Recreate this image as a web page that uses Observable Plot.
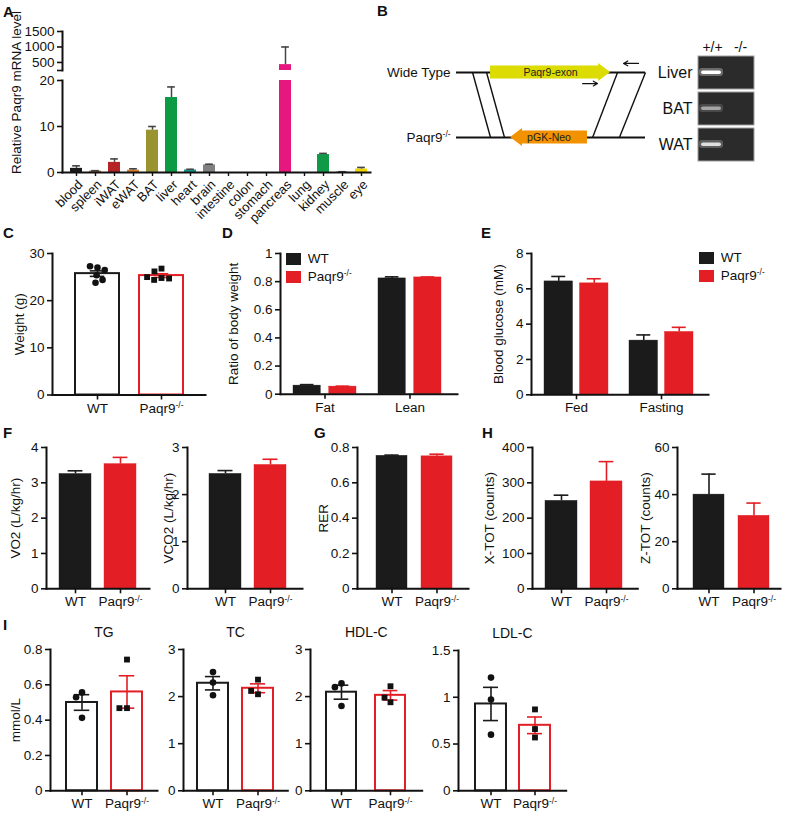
<!DOCTYPE html>
<html><head><meta charset="utf-8">
<script src="https://cdn.jsdelivr.net/npm/d3@7"></script>
<script src="https://cdn.jsdelivr.net/npm/@observablehq/plot@0.6"></script>
<style>
body{margin:0;background:#fff;}
#fig{position:relative;width:789px;height:815px;font-family:"Liberation Sans",Arial,Helvetica,sans-serif;overflow:hidden;background:#fff;}
.pl{position:absolute;}
.pl svg{overflow:visible;max-width:none;}
.letter{position:absolute;font-weight:bold;font-size:15px;line-height:15px;color:#111;}
</style></head><body><div id="fig"></div>
<script>
// ---------------- DATA ----------------
const genotypes = ["WT", "Paqr9-/-"];
const genotypeColors = ["#1b1b1b", "#e31e24"];

// A: tissue expression (broken axis)
const tissues = ["blood","spleen","iWAT","eWAT","BAT","liver","heart","brain","intestine","colon","stomach","pancreas","lung","kidney","muscle","eye"];
const tissueMean = [0.9, 0.3, 2.2, 0.5, 9.2, 16.3, 0.55, 1.65, 0, 0, 0, 430, 0, 3.9, 0.12, 0.75];
const tissueSem  = [0.55, 0.1, 0.75, 0.3, 0.8, 2.3, 0.15, 0.15, 0, 0, 0, 570, 0, 0.25, 0.05, 0.35];
const tissueColors = ["#1a1a1a","#b8743a","#b52327","#d97a25","#9a9430","#0c9a45","#17998a","#808080","#888888","#888888","#888888","#e6177f","#888888","#109a48","#9a9a9a","#f2d500"];
const aLowerDomain = [0, 20], aLowerTicks = [0, 10, 20];
const aUpperDomain = [240, 1500], aUpperTicks = [240, 500, 1000, 1500];

// B: targeting schematic + genotyping gel
const bRows = [{name: "Wide Type", row: 1}, {name: "Paqr9-/-", row: 0}];
const bLocus = [0, 100];
const bCassettes = [{name: "Paqr9-exon", row: 1, from: 18, to: 81.5}, {name: "pGK-Neo", row: 0, from: 69.3, to: 28.6}];
const bCassetteColors = ["#dcdc00", "#f39200"];
const bHomology = [[8.5, 18], [15.9, 25.4], [85.2, 72], [100, 86.2]];
const bPrimers = [{row: 1.14, from: 96.3, to: 88.4}, {row: 0.83, from: 66.7, to: 74.6}];
const gelTissues = ["Liver", "BAT", "WAT"];
const gelLanes = ["+/+", "-/-"];
const gelBand = [[1.0, 0], [0.5, 0], [0.8, 0]];

// C: body weight (individual mice)
const weightWT = [27.0, 27.3, 26.5, 25.4, 24.4, 23.8];
const weightKO = [26.8, 26.2, 24.8, 24.4, 24.7, 25.0];
const weightTicks = [0, 10, 20, 30];

// D: body composition
const compGroups = ["Fat", "Lean"];
const compWT = [0.061, 0.823], compWTsem = [0.007, 0.011];
const compKO = [0.054, 0.830], compKOsem = [0.003, 0.003];
const compTicks = [0, 0.2, 0.4, 0.6, 0.8, 1];

// E: blood glucose
const glucGroups = ["Fed", "Fasting"];
const glucWT = [6.42, 3.07], glucWTsem = [0.28, 0.32];
const glucKO = [6.31, 3.56], glucKOsem = [0.26, 0.26];
const glucTicks = [0, 2, 4, 6, 8];

// F, G, H: metabolic cage
const vo2 = [3.25, 3.53], vo2Sem = [0.09, 0.19], vo2Ticks = [0, 1, 2, 3, 4];
const vco2 = [2.44, 2.63], vco2Sem = [0.07, 0.12], vco2Ticks = [0, 1, 2, 3];
const rer = [0.753, 0.750], rerSem = [0.004, 0.012], rerTicks = [0, 0.2, 0.4, 0.6, 0.8];
const xtot = [249, 304], xtotSem = [16, 56], xtotTicks = [0, 100, 200, 300, 400];
const ztot = [40, 31], ztotSem = [8.7, 5.4], ztotTicks = [0, 20, 40, 60];

// I: serum lipids (individual mice)
const tgWT = [0.557, 0.53, 0.413], tgKO = [0.743, 0.468, 0.468], tgTicks = [0, 0.2, 0.4, 0.6, 0.8];
const tcWT = [2.52, 2.3, 2.03], tcKO = [2.36, 2.05, 2.12], tcTicks = [0, 1, 2, 3];
const hdlWT = [2.28, 2.2, 1.8], hdlKO = [2.22, 1.88, 1.98], hdlTicks = [0, 1, 2, 3];
const ldlWT = [1.21, 0.975, 0.60], ldlKO = [0.87, 0.66, 0.57], ldlTicks = [0, 0.5, 1, 1.5];

// ---------------- HELPERS ----------------
const FONT = '"Liberation Sans", Arial, Helvetica, sans-serif';
const INK = "#111";
const TICK_FS = 13.5, XLAB_FS = 13.5, YLAB_FS = 13.5;
const fig = document.getElementById("fig");
const baseStyle = {fontFamily: FONT, fontSize: "13px", color: INK, background: "transparent", overflow: "visible", maxWidth: "none"};

function put(node, left, top, w) {
  const div = document.createElement("div");
  div.className = "pl";
  div.style.left = left + "px"; div.style.top = top + "px";
  if (w) div.style.width = w + "px";
  div.appendChild(node); fig.appendChild(div);
  return div;
}
function letter(ch, x, cy) {
  const d = document.createElement("div");
  d.className = "letter"; d.textContent = ch;
  d.style.left = x + "px"; d.style.top = (cy - 7.5) + "px";
  fig.appendChild(d);
}
function supify(root) {
  root.querySelectorAll("text").forEach(t => {
    if (t.childElementCount === 0 && t.textContent === "Paqr9-/-") {
      t.textContent = "Paqr9";
      const ts = document.createElementNS("http://www.w3.org/2000/svg", "tspan");
      ts.textContent = "-/-"; ts.setAttribute("font-size", "62%"); ts.setAttribute("dy", "-0.55em");
      t.appendChild(ts);
    }
  });
}
function supifyHTML(root) {
  const walker = document.createTreeWalker(root, NodeFilter.SHOW_TEXT);
  const hits = [];
  while (walker.nextNode()) if (walker.currentNode.nodeValue.trim() === "Paqr9-/-") hits.push(walker.currentNode);
  hits.forEach(n => {
    const span = document.createElement("span");
    span.innerHTML = 'Paqr9<sup style="font-size:62%;vertical-align:0.55em;line-height:0">-/-</sup>';
    n.parentNode.replaceChild(span, n);
  });
}
function bandOpts(a0, a1, b0, bw, S, n) {
  const range = a1 - a0;
  const paddingInner = 1 - bw / S;
  const paddingOuter = Math.max(0.0001, (range / S - n + paddingInner) / 2);
  const align = Math.min(1, Math.max(0, (b0 - a0) / (2 * paddingOuter * S)));
  return {paddingInner, paddingOuter, align};
}
function geom(o, padL = 62, padR = 10, padT = 30, padB = 32) {
  const left = o.axisX - padL, top = o.yTop - padT;
  return {left, top, width: o.axisEnd - left + padR, height: o.y0 - top + padB,
          marginLeft: padL, marginRight: padR, marginTop: padT, marginBottom: padB};
}
function render(g, spec) {
  const svg = Plot.plot({width: g.width, height: g.height, marginLeft: g.marginLeft, marginRight: g.marginRight,
    marginTop: g.marginTop, marginBottom: g.marginBottom, style: baseStyle, ...spec});
  supify(svg);
  put(svg, g.left, g.top, g.width);
  return svg;
}
function yLabel(text, dx, dy = 0, fontSize = YLAB_FS) {
  return Plot.text([text], {text: d => d, frameAnchor: "left", rotate: -90, textAnchor: "middle", lineAnchor: "middle", dx, dy, fontSize});
}
function frameAxes(o) {
  const marks = [
    Plot.frame({anchor: "left", stroke: INK, strokeWidth: 2}),
    Plot.frame({anchor: "bottom", stroke: INK, strokeWidth: 2}),
    Plot.axisY({ticks: o.ticks, tickFormat: o.tickFormat || (d => String(d)), tickSize: 5, tickPadding: 3, strokeWidth: 1.6, fontSize: TICK_FS, label: null})
  ];
  if (o.xAxis !== false) marks.push(Plot.axisX({tickSize: 5, tickPadding: 3, strokeWidth: 1.6, fontSize: XLAB_FS, label: null, ...(o.xAxisOpts || {})}));
  if (o.ylabel) marks.push(yLabel(o.ylabel, o.labelX - o.axisX, o.labelDy || 0));
  if (o.title) marks.push(Plot.text([o.title], {text: d => d, frameAnchor: "top", textAnchor: "middle", lineAnchor: "middle", dy: -17, fontSize: 14}));
  return marks;
}
const colorScale = {domain: genotypes, range: genotypeColors};

// Two-bar panel (WT vs Paqr9-/-); open bars + dots when individual points are given
function simplePanel(o) {
  let rows;
  if (o.points) {
    rows = genotypes.map((g, i) => ({g, mean: d3.mean(o.points[i]), sem: d3.deviation(o.points[i]) / Math.sqrt(o.points[i].length)}));
  } else {
    rows = genotypes.map((g, i) => ({g, mean: o.mean[i], sem: o.sem[i]}));
  }
  const filled = !o.points;
  const [first, bw, S] = o.bars;
  const bo = bandOpts(o.axisX, o.axisEnd, first, bw, S, 2);
  const cap = o.cap || 15, ci = (bw - cap) / 2;
  const marks = [
    Plot.barY(rows, {x: "g", y: "mean", fill: filled ? "g" : "white", stroke: "g", strokeWidth: filled ? 0.4 : 2}),
    Plot.ruleX(rows, {x: "g", y1: d => filled ? d.mean : d.mean - d.sem, y2: d => d.mean + d.sem, stroke: "g", strokeWidth: 1.6}),
    Plot.tickY(rows, {x: "g", y: d => d.mean + d.sem, stroke: "g", strokeWidth: 1.6, insetLeft: ci, insetRight: ci})
  ];
  if (!filled) marks.push(Plot.tickY(rows, {x: "g", y: d => d.mean - d.sem, stroke: "g", strokeWidth: 1.6, insetLeft: ci, insetRight: ci}));
  marks.push(...frameAxes(o));
  const g = geom(o);
  const y = {domain: [o.ticks[0], o.ticks[o.ticks.length - 1]]};
  render(g, {x: {domain: genotypes, ...bo}, y, color: colorScale, marks});
  if (o.points) {
    const pts = o.points.flatMap((arr, i) => arr.map(v => ({g: genotypes[i], v})));
    render(g, {fx: {domain: genotypes, ...bo, axis: null}, y: {...y, axis: null},
      symbol: {domain: genotypes, range: ["circle", "square"]},
      marks: [Plot.dot(pts, Plot.dodgeX("middle", {fx: "g", y: "v", r: 3.3, symbol: "g", fill: INK, padding: 0.6}))]});
  }
}

// Grouped panel (two conditions x two genotypes)
function groupedPanel(o) {
  const [first, B, S] = o.bars;
  const bo = bandOpts(o.axisX, o.axisEnd, first, B, S, o.groups.length);
  const w = (B - o.gap) / 2, off = B / 2 - w / 2, cap = 14, ci = (w - cap) / 2;
  const W = o.groups.map((c, i) => ({c, g: genotypes[0], mean: o.wt[i], sem: o.wtSem[i]}));
  const K = o.groups.map((c, i) => ({c, g: genotypes[1], mean: o.ko[i], sem: o.koSem[i]}));
  const marks = [];
  for (const [set, s] of [[W, -1], [K, 1]]) {
    marks.push(Plot.barY(set, {x: "c", y: "mean", fill: "g", stroke: "g", strokeWidth: 0.4, insetLeft: s < 0 ? 0 : B - w, insetRight: s < 0 ? B - w : 0}));
    marks.push(Plot.ruleX(set, {x: "c", y1: "mean", y2: d => d.mean + d.sem, stroke: "g", strokeWidth: 1.6, dx: s * off}));
    marks.push(Plot.tickY(set, {x: "c", y: d => d.mean + d.sem, stroke: "g", strokeWidth: 1.6,
      insetLeft: s < 0 ? ci : B - w + ci, insetRight: s < 0 ? B - w + ci : ci}));
  }
  marks.push(...frameAxes(o));
  render(geom(o), {x: {domain: o.groups, ...bo}, y: {domain: [o.ticks[0], o.ticks[o.ticks.length - 1]]}, color: colorScale, marks});
  const lg = Plot.legend({color: {type: "ordinal", domain: genotypes, range: genotypeColors}, swatchWidth: 15, swatchHeight: 12, columns: 1});
  lg.style.fontFamily = FONT; lg.style.fontSize = "13.5px"; lg.style.color = INK; lg.style.lineHeight = "17px";
  supifyHTML(lg);
  put(lg, o.legend[0], o.legend[1], 110);
}

// ---------------- PANEL A ----------------
{
  const rows = tissues.map((t, i) => ({t, mean: tissueMean[i], sem: tissueSem[i]}));
  const withErr = rows.filter(d => d.sem > 0);
  const bo = bandOpts(62, 370, 67.7, 12.3, 19.2, tissues.length);
  const color = {domain: tissues, range: tissueColors};
  const ci = (12.3 - 8) / 2;
  const dataMarks = [
    Plot.barY(rows, {x: "t", y: "mean", fill: "t", clip: true}),
    Plot.ruleX(withErr, {x: "t", y1: "mean", y2: d => d.mean + d.sem, stroke: "#444", strokeWidth: 1.5, clip: true}),
    Plot.tickY(withErr, {x: "t", y: d => d.mean + d.sem, stroke: "#444", strokeWidth: 1.6, insetLeft: ci, insetRight: ci, clip: true})
  ];
  // upper segment (break)
  render({left: 0, top: 0, width: 380, height: 80, marginLeft: 62, marginRight: 10, marginTop: 31, marginBottom: 10},
    {x: {domain: tissues, ...bo, axis: null}, y: {domain: aUpperDomain}, color,
     marks: [...dataMarks,
       Plot.frame({anchor: "left", stroke: INK, strokeWidth: 2}),
       Plot.axisY({ticks: aUpperTicks, tickFormat: d => d < 500 ? "" : String(d), tickSize: 5, tickPadding: 3, strokeWidth: 1.6, fontSize: TICK_FS, label: null})]});
  // lower segment
  render({left: 0, top: 0, width: 380, height: 215, marginLeft: 62, marginRight: 10, marginTop: 80, marginBottom: 43},
    {x: {domain: tissues, ...bo}, y: {domain: aLowerDomain}, color,
     marks: [...dataMarks,
       Plot.frame({anchor: "left", stroke: INK, strokeWidth: 2}),
       Plot.frame({anchor: "bottom", stroke: INK, strokeWidth: 2}),
       Plot.axisY({ticks: aLowerTicks, tickSize: 5, tickPadding: 3, strokeWidth: 1.6, fontSize: TICK_FS, label: null}),
       Plot.axisX({tickSize: 4, strokeWidth: 1.4, tickFormat: () => "", label: null}),
       Plot.text(tissues, {x: d => d, text: d => d, frameAnchor: "bottom", rotate: -45, textAnchor: "end", lineAnchor: "middle", dx: 4, dy: 10, fontSize: 13}),
       yLabel("Relative Paqr9 mRNA level", -46, -34, 13.5)]});
}

// ---------------- PANEL B ----------------
{
  const hb = 0.1, hh = 0.14, hl = 6.3;
  const shapes = bCassettes.flatMap(c => {
    const dir = Math.sign(c.to - c.from), base = c.to - dir * hl;
    const pts = [
      {x: c.from, y1: c.row - hb, y2: c.row + hb},
      {x: base, y1: c.row - hb, y2: c.row + hb},
      {x: base, y1: c.row - hh, y2: c.row + hh},
      {x: c.to, y1: c.row, y2: c.row}
    ];
    return pts.map(p => ({...p, name: c.name}));
  });
  render({left: 380, top: 30, width: 300, height: 130, marginLeft: 76, marginRight: 35, marginTop: 42, marginBottom: 23},
    {x: {domain: [0, 100], axis: null}, y: {domain: [0, 1], axis: null},
     color: {domain: bCassettes.map(d => d.name), range: bCassetteColors},
     marks: [
       Plot.ruleY(bRows, {y: "row", x1: () => bLocus[0], x2: () => bLocus[1], stroke: INK, strokeWidth: 2}),
       Plot.link(bHomology, {x1: d => d[0], y1: () => 1, x2: d => d[1], y2: () => 0, stroke: INK, strokeWidth: 1.4}),
       Plot.areaY(shapes, {x: "x", y1: "y1", y2: "y2", z: "name", fill: "name", curve: "linear"}),
       Plot.text(bCassettes, {x: d => (d.from + d.to) / 2, y: "row", text: "name", fontSize: 10.5, fill: "#222"}),
       Plot.arrow(bPrimers, {x1: "from", x2: "to", y1: "row", y2: "row", stroke: INK, strokeWidth: 1.2, headLength: 6}),
       Plot.text(bRows, {x: () => bLocus[0], y: "row", text: "name", textAnchor: "end", dx: -6, fontSize: 13.5})
     ]});
  const bands = gelTissues.flatMap((t, i) => gelLanes.map((l, j) => ({t, l, v: gelBand[i][j]})));
  render({left: 640, top: 30, width: 140, height: 140, marginLeft: 58, marginRight: 26, marginTop: 25, marginBottom: 7},
    {x: {domain: gelLanes, padding: 0}, y: {domain: gelTissues, paddingInner: 0.08, paddingOuter: 0},
     opacity: {type: "identity"},
     marks: [
       Plot.cell(gelTissues, {y: d => d, fill: "#2b2b2b", stroke: "#a0a0a0", strokeWidth: 1}),
       Plot.cell(bands, {x: "l", y: "t", fill: "white", fillOpacity: d => d.v * 0.3, insetTop: 12, insetBottom: 13, insetLeft: 1, insetRight: 3, rx: 3}),
       Plot.cell(bands, {x: "l", y: "t", fill: "white", fillOpacity: "v", insetTop: 14.5, insetBottom: 15, insetLeft: 3, insetRight: 5, rx: 2}),
       Plot.axisY({tickSize: 0, tickPadding: 6, fontSize: 16, label: null}),
       Plot.axisX({anchor: "top", tickSize: 0, tickPadding: 4, fontSize: 14, label: null})
     ]});
}

// ---------------- PANELS C–I ----------------
simplePanel({axisX: 52, axisEnd: 205, yTop: 252.5, y0: 394, bars: [75, 44.5, 64.5], ticks: weightTicks,
  points: [weightWT, weightKO], ylabel: "Weight (g)", labelX: 19});

groupedPanel({axisX: 280, axisEnd: 457, yTop: 253.3, y0: 394, bars: [293.3, 63.4, 85], gap: 8, ticks: compTicks,
  groups: compGroups, wt: compWT, wtSem: compWTsem, ko: compKO, koSem: compKOsem,
  ylabel: "Ratio of body weight", labelX: 233, legend: [286, 250]});

groupedPanel({axisX: 531, axisEnd: 708, yTop: 252.7, y0: 394, bars: [544.3, 64, 85], gap: 7, ticks: glucTicks,
  groups: glucGroups, wt: glucWT, wtSem: glucWTsem, ko: glucKO, koSem: glucKOsem,
  ylabel: "Blood glucose (mM)", labelX: 498, legend: [699, 249]});

simplePanel({axisX: 46, axisEnd: 149, yTop: 446.7, y0: 588, bars: [59, 32.2, 45.3], ticks: vo2Ticks,
  mean: vo2, sem: vo2Sem, ylabel: "VO2 (L/kg/hr)", labelX: 15});
simplePanel({axisX: 187, axisEnd: 302, yTop: 446.7, y0: 588, bars: [209.3, 32, 45], ticks: vco2Ticks,
  mean: vco2, sem: vco2Sem, ylabel: "VCO2 (L/kg/hr)", labelX: 168});
simplePanel({axisX: 357, axisEnd: 468, yTop: 446.7, y0: 588, bars: [375, 31.7, 45.7], ticks: rerTicks,
  mean: rer, sem: rerSem, ylabel: "RER", labelX: 323});
simplePanel({axisX: 531.7, axisEnd: 637, yTop: 446.7, y0: 588, bars: [544.3, 32.3, 45.7], ticks: xtotTicks,
  mean: xtot, sem: xtotSem, ylabel: "X-TOT (counts)", labelX: 489});
simplePanel({axisX: 677, axisEnd: 780, yTop: 446.7, y0: 588, bars: [692.7, 31.7, 45.6], ticks: ztotTicks,
  mean: ztot, sem: ztotSem, ylabel: "Z-TOT (counts)", labelX: 645});

simplePanel({axisX: 50, axisEnd: 157, yTop: 649, y0: 790.3, bars: [65.7, 30.5, 45], ticks: tgTicks,
  points: [tgWT, tgKO], ylabel: "mmol/L", labelX: 15, title: "TG"});
simplePanel({axisX: 182.7, axisEnd: 287, yTop: 649, y0: 790.3, bars: [196.7, 30.8, 45], ticks: tcTicks,
  points: [tcWT, tcKO], title: "TC"});
simplePanel({axisX: 310, axisEnd: 421.7, yTop: 649, y0: 790.3, bars: [325.7, 30.3, 49.3], ticks: hdlTicks,
  points: [hdlWT, hdlKO], title: "HDL-C"});
simplePanel({axisX: 458.3, axisEnd: 566, yTop: 650, y0: 790.3, bars: [475, 31, 44.3], ticks: ldlTicks,
  points: [ldlWT, ldlKO], title: "LDL-C"});

// panel letters
[["A", 3, 11], ["B", 377, 10], ["C", 3, 232], ["D", 222, 232], ["E", 481, 232],
 ["F", 3, 432], ["G", 314, 432], ["H", 482, 432], ["I", 3, 624]].forEach(([c, x, y]) => letter(c, x, y));
</script></body></html>
